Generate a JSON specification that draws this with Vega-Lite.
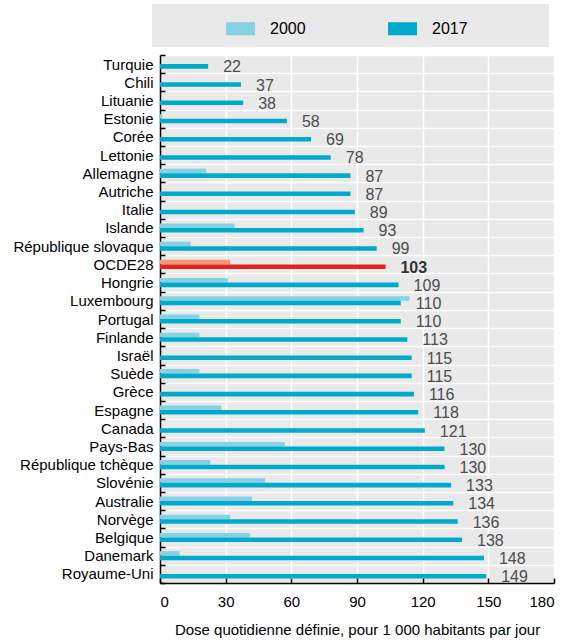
{
  "$schema": "https://vega.github.io/schema/vega-lite/v6.json",
  "width": 394,
  "height": 528,
  "autosize": {"type": "none"},
  "padding": {"left": 160, "top": 55, "right": 22, "bottom": 60},
  "config": {
    "font": "Liberation Sans, Arial, sans-serif",
    "view": {"fill": "#e9e9e9", "stroke": null}
  },
  "data": {
    "values": [
      {"pays": "Turquie", "annee": "2017", "serie": "2017", "valeur": 22},
      {"pays": "Chili", "annee": "2017", "serie": "2017", "valeur": 37},
      {"pays": "Lituanie", "annee": "2017", "serie": "2017", "valeur": 38},
      {"pays": "Estonie", "annee": "2000", "serie": "2000", "valeur": 1},
      {"pays": "Estonie", "annee": "2017", "serie": "2017", "valeur": 58},
      {"pays": "Corée", "annee": "2017", "serie": "2017", "valeur": 69},
      {"pays": "Lettonie", "annee": "2017", "serie": "2017", "valeur": 78},
      {"pays": "Allemagne", "annee": "2000", "serie": "2000", "valeur": 21},
      {"pays": "Allemagne", "annee": "2017", "serie": "2017", "valeur": 87},
      {"pays": "Autriche", "annee": "2017", "serie": "2017", "valeur": 87},
      {"pays": "Italie", "annee": "2017", "serie": "2017", "valeur": 89},
      {"pays": "Islande", "annee": "2000", "serie": "2000", "valeur": 34},
      {"pays": "Islande", "annee": "2017", "serie": "2017", "valeur": 93},
      {"pays": "République slovaque", "annee": "2000", "serie": "2000", "valeur": 14},
      {"pays": "République slovaque", "annee": "2017", "serie": "2017", "valeur": 99},
      {"pays": "OCDE28", "annee": "2000", "serie": "OCDE28 2000", "valeur": 32},
      {"pays": "OCDE28", "annee": "2017", "serie": "OCDE28 2017", "valeur": 103},
      {"pays": "Hongrie", "annee": "2000", "serie": "2000", "valeur": 31},
      {"pays": "Hongrie", "annee": "2017", "serie": "2017", "valeur": 109},
      {"pays": "Luxembourg", "annee": "2000", "serie": "2000", "valeur": 114},
      {"pays": "Luxembourg", "annee": "2017", "serie": "2017", "valeur": 110},
      {"pays": "Portugal", "annee": "2000", "serie": "2000", "valeur": 18},
      {"pays": "Portugal", "annee": "2017", "serie": "2017", "valeur": 110},
      {"pays": "Finlande", "annee": "2000", "serie": "2000", "valeur": 18},
      {"pays": "Finlande", "annee": "2017", "serie": "2017", "valeur": 113},
      {"pays": "Israël", "annee": "2017", "serie": "2017", "valeur": 115},
      {"pays": "Suède", "annee": "2000", "serie": "2000", "valeur": 18},
      {"pays": "Suède", "annee": "2017", "serie": "2017", "valeur": 115},
      {"pays": "Grèce", "annee": "2017", "serie": "2017", "valeur": 116},
      {"pays": "Espagne", "annee": "2000", "serie": "2000", "valeur": 28},
      {"pays": "Espagne", "annee": "2017", "serie": "2017", "valeur": 118},
      {"pays": "Canada", "annee": "2017", "serie": "2017", "valeur": 121},
      {"pays": "Pays-Bas", "annee": "2000", "serie": "2000", "valeur": 57},
      {"pays": "Pays-Bas", "annee": "2017", "serie": "2017", "valeur": 130},
      {"pays": "République tchèque", "annee": "2000", "serie": "2000", "valeur": 23},
      {"pays": "République tchèque", "annee": "2017", "serie": "2017", "valeur": 130},
      {"pays": "Slovénie", "annee": "2000", "serie": "2000", "valeur": 48},
      {"pays": "Slovénie", "annee": "2017", "serie": "2017", "valeur": 133},
      {"pays": "Australie", "annee": "2000", "serie": "2000", "valeur": 42},
      {"pays": "Australie", "annee": "2017", "serie": "2017", "valeur": 134},
      {"pays": "Norvège", "annee": "2000", "serie": "2000", "valeur": 32},
      {"pays": "Norvège", "annee": "2017", "serie": "2017", "valeur": 136},
      {"pays": "Belgique", "annee": "2000", "serie": "2000", "valeur": 41},
      {"pays": "Belgique", "annee": "2017", "serie": "2017", "valeur": 138},
      {"pays": "Danemark", "annee": "2000", "serie": "2000", "valeur": 9},
      {"pays": "Danemark", "annee": "2017", "serie": "2017", "valeur": 148},
      {"pays": "Royaume-Uni", "annee": "2017", "serie": "2017", "valeur": 149}
    ]
  },
  "encoding": {
    "y": {
      "field": "pays",
      "type": "nominal",
      "sort": ["Turquie", "Chili", "Lituanie", "Estonie", "Corée", "Lettonie", "Allemagne", "Autriche", "Italie", "Islande", "République slovaque", "OCDE28", "Hongrie", "Luxembourg", "Portugal", "Finlande", "Israël", "Suède", "Grèce", "Espagne", "Canada", "Pays-Bas", "République tchèque", "Slovénie", "Australie", "Norvège", "Belgique", "Danemark", "Royaume-Uni"],
      "scale": {"paddingInner": 0, "paddingOuter": 0},
      "axis": {
        "title": null,
        "labelFontSize": 15,
        "labelColor": "#000000",
        "labelPadding": 12,
        "labelLimit": 220,
        "tickBand": "extent",
        "tickSize": -5,
        "tickColor": "#000000",
        "tickWidth": 1.5,
        "domainColor": "#000000",
        "domainWidth": 1.5,
        "grid": true,
        "gridColor": "#ffffff",
        "gridWidth": 1.5
      }
    },
    "yOffset": {
      "field": "annee",
      "type": "nominal",
      "scale": {"domain": ["2000", "2017"], "paddingInner": 0, "paddingOuter": 1.1}
    },
    "x": {
      "field": "valeur",
      "type": "quantitative",
      "scale": {"domain": [0, 180], "nice": false},
      "axis": {
        "values": [0, 30, 60, 90, 120, 150, 180],
        "title": "Dose quotidienne définie, pour 1 000 habitants par jour",
        "titleFontSize": 15,
        "titleFontWeight": "normal",
        "titleColor": "#000000",
        "titlePadding": 13,
        "labelFontSize": 15,
        "labelColor": "#000000",
        "labelPadding": 16,
        "tickSize": -5,
        "tickColor": "#000000",
        "tickWidth": 1.5,
        "domainColor": "#000000",
        "domainWidth": 1.5,
        "grid": true,
        "gridColor": "#ffffff",
        "gridWidth": 1.5
      }
    }
  },
  "layer": [
    {
      "mark": {"type": "bar"},
      "encoding": {
        "color": {
          "field": "serie",
          "type": "nominal",
          "scale": {
            "domain": ["2000", "2017", "OCDE28 2000", "OCDE28 2017"],
            "range": ["#86d2e5", "#00aacc", "#f4967a", "#e2231a"]
          },
          "legend": {
            "values": ["2000", "2017"],
            "title": null,
            "orient": "none",
            "direction": "horizontal",
            "legendX": -8,
            "legendY": -51,
            "fillColor": "#e9e9e9",
            "padding": 10,
            "symbolType": "M-1,-0.45H1V0.45H-1Z",
            "symbolSize": 841,
            "symbolStrokeWidth": 0,
            "symbolOpacity": 1,
            "symbolOffset": 64,
            "labelOffset": 15,
            "columnPadding": 18,
            "labelFontSize": 16,
            "labelColor": "#000000",
            "labelExpr": "datum.label == '2017' ? pad(datum.label, 20, '\u00a0') + '\u200b' : datum.label"
          }
        }
      }
    },
    {
      "transform": [{"filter": "datum.annee == '2017' && datum.pays != 'OCDE28'"}],
      "mark": {"type": "text", "align": "left", "baseline": "middle", "dx": 15, "dy": 1, "fontSize": 16, "color": "#4d4d4d"},
      "encoding": {"text": {"field": "valeur", "type": "quantitative"}}
    },
    {
      "transform": [{"filter": "datum.annee == '2017' && datum.pays == 'OCDE28'"}],
      "mark": {"type": "text", "align": "left", "baseline": "middle", "dx": 15, "dy": 1, "fontSize": 16, "fontWeight": "bold", "color": "#333333"},
      "encoding": {"text": {"field": "valeur", "type": "quantitative"}}
    }
  ]
}
